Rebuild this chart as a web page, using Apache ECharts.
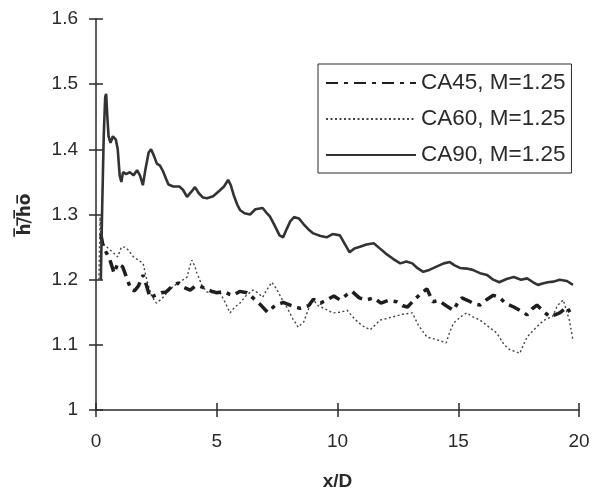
<!DOCTYPE html>
<html>
<head>
<meta charset="utf-8">
<script src="https://cdn.jsdelivr.net/npm/echarts@6/dist/echarts.min.js"></script>
<style>
  html, body { margin: 0; padding: 0; background: #fff; }
  #main { width: 595px; height: 492px; }
</style>
</head>
<body>
<div id="main"></div>
<script>
// values, [x/D, h/ho]
var ca45 = [[0.2,1.27],[0.3,1.25],[0.45,1.24],[0.58,1.23],[0.75,1.21],[0.9,1.225],[1.1,1.22],[1.3,1.2],[1.45,1.185],[1.6,1.183],[1.75,1.19],[1.95,1.207],[2.1,1.19],[2.24,1.172],[2.45,1.176],[2.7,1.18],[2.9,1.181],[3.15,1.19],[3.4,1.195],[3.65,1.188],[3.9,1.184],[4.1,1.19],[4.3,1.19],[4.55,1.186],[4.8,1.182],[5.0,1.18],[5.3,1.182],[5.5,1.178],[5.67,1.176],[5.95,1.182],[6.25,1.18],[6.5,1.172],[6.8,1.162],[7.1,1.15],[7.4,1.16],[7.75,1.165],[8.1,1.16],[8.45,1.156],[8.8,1.16],[9.0,1.17],[9.3,1.164],[9.6,1.17],[9.85,1.175],[10.1,1.169],[10.35,1.176],[10.6,1.182],[10.9,1.172],[11.2,1.169],[11.5,1.172],[11.8,1.164],[12.1,1.168],[12.45,1.166],[12.7,1.16],[12.9,1.158],[13.2,1.17],[13.5,1.18],[13.7,1.186],[13.95,1.166],[14.2,1.168],[14.5,1.16],[14.8,1.153],[15.0,1.166],[15.15,1.172],[15.4,1.168],[15.65,1.163],[15.9,1.161],[16.2,1.17],[16.45,1.176],[16.7,1.173],[16.95,1.164],[17.3,1.158],[17.6,1.152],[17.85,1.146],[18.05,1.155],[18.26,1.161],[18.5,1.152],[18.8,1.143],[19.0,1.146],[19.2,1.149],[19.5,1.158],[19.7,1.145]];

var ca60 = [[0.12,1.2],[0.17,1.296],[0.22,1.26],[0.3,1.255],[0.45,1.25],[0.6,1.245],[0.75,1.24],[0.9,1.235],[1.05,1.25],[1.2,1.25],[1.35,1.245],[1.55,1.235],[1.75,1.23],[1.95,1.225],[2.1,1.2],[2.3,1.175],[2.5,1.164],[2.7,1.17],[2.95,1.18],[3.2,1.19],[3.5,1.197],[3.77,1.204],[3.88,1.22],[3.97,1.23],[4.1,1.22],[4.18,1.21],[4.4,1.19],[4.6,1.181],[4.85,1.18],[5.13,1.18],[5.35,1.165],[5.55,1.149],[5.75,1.158],[5.96,1.164],[6.2,1.175],[6.5,1.184],[6.7,1.18],[6.9,1.173],[7.1,1.186],[7.28,1.196],[7.4,1.19],[7.5,1.184],[7.7,1.17],[7.9,1.158],[8.15,1.14],[8.37,1.127],[8.6,1.135],[8.8,1.155],[9.0,1.169],[9.2,1.16],[9.5,1.155],[9.8,1.149],[10.1,1.15],[10.4,1.153],[10.7,1.14],[11.0,1.13],[11.35,1.123],[11.55,1.13],[11.76,1.138],[12.0,1.14],[12.3,1.143],[12.7,1.147],[13.1,1.149],[13.35,1.13],[13.7,1.112],[14.1,1.108],[14.5,1.103],[14.65,1.12],[14.8,1.133],[15.1,1.143],[15.35,1.149],[15.6,1.143],[15.9,1.138],[16.25,1.128],[16.6,1.118],[16.9,1.1],[17.15,1.092],[17.35,1.09],[17.55,1.087],[17.7,1.1],[17.85,1.112],[18.1,1.122],[18.4,1.133],[18.65,1.14],[18.9,1.143],[19.1,1.16],[19.35,1.169],[19.5,1.15],[19.6,1.138],[19.75,1.107]];

var ca90 = [[0.2,1.2],[0.25,1.3],[0.32,1.42],[0.38,1.48],[0.42,1.485],[0.47,1.45],[0.52,1.42],[0.6,1.41],[0.7,1.42],[0.82,1.415],[0.9,1.4],[0.98,1.36],[1.05,1.35],[1.12,1.365],[1.25,1.362],[1.4,1.365],[1.55,1.36],[1.7,1.368],[1.82,1.36],[1.94,1.345],[2.05,1.37],[2.18,1.395],[2.28,1.4],[2.4,1.39],[2.52,1.378],[2.65,1.375],[2.78,1.366],[2.9,1.355],[3.0,1.346],[3.2,1.343],[3.45,1.343],[3.6,1.338],[3.77,1.327],[3.95,1.335],[4.1,1.342],[4.25,1.333],[4.43,1.326],[4.6,1.325],[4.85,1.328],[5.1,1.336],[5.3,1.343],[5.47,1.353],[5.58,1.345],[5.7,1.33],[5.85,1.315],[5.96,1.307],[6.15,1.302],[6.38,1.3],[6.6,1.308],[6.9,1.31],[7.05,1.303],[7.2,1.297],[7.4,1.283],[7.6,1.268],[7.75,1.265],[7.9,1.278],[8.05,1.29],[8.2,1.296],[8.4,1.294],[8.6,1.285],[8.8,1.277],[9.0,1.271],[9.3,1.267],[9.55,1.265],[9.8,1.27],[10.1,1.268],[10.3,1.255],[10.5,1.242],[10.7,1.248],[10.9,1.25],[11.2,1.254],[11.5,1.256],[11.75,1.248],[12.0,1.24],[12.3,1.232],[12.6,1.225],[12.85,1.228],[13.1,1.225],[13.3,1.218],[13.55,1.212],[13.8,1.215],[14.1,1.22],[14.4,1.225],[14.65,1.227],[14.85,1.222],[15.07,1.218],[15.35,1.217],[15.6,1.215],[15.9,1.21],[16.2,1.207],[16.45,1.2],[16.7,1.196],[17.0,1.201],[17.3,1.204],[17.6,1.2],[17.85,1.202],[18.1,1.196],[18.3,1.192],[18.5,1.194],[18.7,1.196],[18.95,1.197],[19.2,1.2],[19.5,1.198],[19.75,1.192]];

var seriesNames = ['CA45, M=1.25', 'CA60, M=1.25', 'CA90, M=1.25'];

var FONT = 'Liberation Sans, Arial, sans-serif';
var INK = '#2a2a2a';

var chart = echarts.init(document.getElementById('main'), null, { renderer: 'canvas' });

var xBase = { type: 'value', min: 0, max: 20, interval: 5, position: 'bottom' };
var yBase = { type: 'value', min: 1, max: 1.6, interval: 0.1, position: 'left' };

var option = {
    backgroundColor: '#fff',
    animation: false,
    grid: { left: 96, right: 16, top: 19, bottom: 82, containLabel: false, outerBoundsMode: 'none' },
    legend: {
        orient: 'vertical',
        left: 318,
        top: 64,
        padding: [7, 6, 6, 7],
        itemGap: 12,
        itemWidth: 90,
        itemHeight: 14,
        borderColor: INK,
        borderWidth: 1,
        itemStyle: { opacity: 0 },
        textStyle: { fontFamily: FONT, fontSize: 22.5, color: INK, lineHeight: 24 },
        data: seriesNames
    },
    xAxis: [
        Object.assign({}, xBase, {
            name: 'x/D',
            nameLocation: 'middle',
            nameGap: 62,
            nameTextStyle: { fontFamily: FONT, fontSize: 19, fontWeight: 'bold', color: INK },
            axisLine: { show: true, lineStyle: { color: INK, width: 1.5 } },
            axisTick: { show: true, inside: false, length: 7, lineStyle: { color: INK, width: 1.5 } },
            axisLabel: { fontFamily: FONT, fontSize: 19, color: INK, margin: 22 },
            splitLine: { show: false }
        }),
        Object.assign({}, xBase, {
            axisLine: { show: false },
            axisTick: { show: true, inside: true, length: 7, lineStyle: { color: INK, width: 1.5 } },
            axisLabel: { show: false },
            splitLine: { show: false }
        })
    ],
    yAxis: [
        Object.assign({}, yBase, {
            name: 'h\u0305/\u0305h\u0305o\u0305',
            nameLocation: 'middle',
            nameRotate: 90,
            nameGap: 62,
            nameTextStyle: { fontFamily: 'DejaVu Sans, ' + FONT, fontSize: 17, fontWeight: 'bold', color: INK },
            axisLine: { show: true, lineStyle: { color: INK, width: 1.5 } },
            axisTick: { show: true, inside: false, length: 7, lineStyle: { color: INK, width: 1.5 } },
            axisLabel: { fontFamily: FONT, fontSize: 19, color: INK, margin: 18 },
            splitLine: { show: false }
        }),
        Object.assign({}, yBase, {
            axisLine: { show: false },
            axisTick: { show: true, inside: true, length: 7, lineStyle: { color: INK, width: 1.5 } },
            axisLabel: { show: false },
            splitLine: { show: false }
        })
    ],
    series: [
        {
            name: seriesNames[0], type: 'line', data: ca45, symbol: 'none', z: 3,
            color: '#1e1e1e',
            lineStyle: { color: '#1e1e1e', width: 3.5, type: [12, 6, 4, 6] }
        },
        {
            name: seriesNames[1], type: 'line', data: ca60, symbol: 'none', z: 2,
            color: '#444',
            lineStyle: { color: '#444', width: 1.4, type: [2, 2.5] }
        },
        {
            name: seriesNames[2], type: 'line', data: ca90, symbol: 'none', z: 4,
            color: '#333',
            lineStyle: { color: '#333', width: 2.6 }
        }
    ]
};

chart.setOption(option);
</script>
</body>
</html>
